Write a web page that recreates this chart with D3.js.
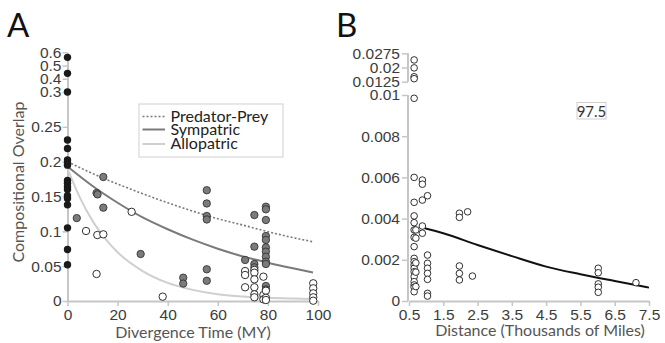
<!DOCTYPE html>
<html>
<head>
<meta charset="utf-8">
<script src="https://cdn.jsdelivr.net/npm/d3@7"></script>
<style>
  body { margin: 0; background: #fff; }
  svg { font-family: Lato, "Open Sans", sans-serif; }
</style>
</head>
<body>
<div id="chart"></div>
<script>
// panel A: same-species pairs (all at divergence 0)
const speciesOverlap = [0.562, 0.441, 0.3, 0.231, 0.219, 0.2025, 0.198, 0.195, 0.173, 0.169,
  0.164, 0.160, 0.151, 0.147, 0.138, 0.105, 0.074, 0.052];

// panel A: sympatric pairs (grey)
const sympTime = [3.7, 11.6, 12.0, 14.3, 14.3, 29.2, 46.2, 46.2, 55.6, 55.6, 55.6, 55.6, 55.6, 55.6,
  70.9, 74.6, 74.6, 74.6, 74.6, 79.2, 79.2, 79.2, 79.2, 79.2, 79.2, 79.2, 79.2, 79.2, 79.2, 79.2, 79.2];
const sympOverlap = [0.119, 0.155, 0.153, 0.178, 0.134, 0.0675, 0.0335, 0.025, 0.159, 0.140, 0.122, 0.117, 0.0455, 0.029,
  0.0589, 0.1234, 0.078, 0.0531, 0.0483, 0.1354, 0.1316, 0.1163, 0.0933, 0.0876, 0.077, 0.0708, 0.0636, 0.0564, 0.0531, 0.0215, 0.0165];

// panel A: allopatric pairs (white)
const alloTime = [7.4, 11.9, 14.3, 11.6, 25.6, 38, 70.9, 70.9, 70.9, 74.6, 74.6, 74.6, 74.6, 74.6, 74.6,
  78.2, 78.2, 78.2, 79.2, 79.2, 79.2, 98.1, 98.1, 98.1, 98.1, 98.1];
const alloOverlap = [0.1005, 0.0947, 0.0957, 0.0388, 0.128, 0.0062, 0.043, 0.0373, 0.0197, 0.0445, 0.0406, 0.0311, 0.0197, 0.0096, 0.0053,
  0.0349, 0.0086, 0.0024, 0.0148, 0.0046, 0.0014, 0.0254, 0.0182, 0.011, 0.0053, 0.0004];

// panel A: fitted curves
const fitTime = [0, 10, 20, 30, 40, 50, 60, 70, 80, 90, 98];
const predatorFit = [0.200, 0.183, 0.168, 0.154, 0.141, 0.129, 0.118, 0.109, 0.0995, 0.091, 0.085];
const sympatricFit = [0.193, 0.165, 0.141, 0.120, 0.103, 0.088, 0.075, 0.064, 0.055, 0.047, 0.041];
const alloFitTime = [0, 5, 10, 15, 20, 30, 40, 50, 60, 70, 80, 90, 98];
const allopatricFit = [0.190, 0.148, 0.115, 0.090, 0.070, 0.043, 0.026, 0.016, 0.0096, 0.0065, 0.0045, 0.0035, 0.003];

const aYTicks = [0, 0.05, 0.1, 0.15, 0.2, 0.25, 0.3, 0.4, 0.5, 0.6];
const aXTicks = [0, 20, 40, 60, 80, 100];

// panel B: overlap vs distance
const distance = [0.65, 0.65, 0.65, 0.65, 0.65, 0.65, 0.65, 0.65, 0.65, 0.65, 0.65, 0.65, 0.65, 0.65, 0.65,
  0.65, 0.65, 0.65, 0.65, 0.65, 0.65, 0.65,
  0.7, 0.7, 0.7, 0.7, 0.7,
  0.89, 0.89, 0.89, 0.89, 0.89, 1.04,
  1.04, 1.04, 1.04, 1.04, 1.04, 1.04, 1.04,
  1.97, 1.97, 1.97, 1.97, 1.97, 2.21, 2.35,
  6.02, 6.02, 6.02, 6.02, 6.02, 7.12];
const distOverlap = [0.024, 0.0198, 0.0151, 0.0141, 0.00984, 0.0060, 0.00479, 0.00413, 0.0038, 0.00345, 0.00309, 0.00264, 0.00207, 0.00191, 0.00175,
  0.00159, 0.00142, 0.00118, 0.00094, 0.00078, 0.00067, 0.00045,
  0.00345, 0.00305, 0.00185, 0.0014, 0.0007,
  0.00587, 0.00567, 0.0049, 0.00364, 0.00329, 0.00511,
  0.00223, 0.00183, 0.00159, 0.00134, 0.00105, 0.00037, 0.00024,
  0.00426, 0.00406, 0.0017, 0.00134, 0.00102, 0.00433, 0.00121,
  0.00159, 0.00137, 0.00083, 0.00067, 0.00042, 0.00089];
const distFitX = [0.96, 1.5, 2.5, 3.5, 4.5, 5.5, 6.5, 7.5];
const distFitY = [0.00353, 0.00329, 0.00272, 0.00218, 0.00167, 0.0013, 0.00097, 0.00065];

const bYLow = [0, 0.002, 0.004, 0.006, 0.008, 0.01];
const bYHigh = [0.0125, 0.02, 0.0275];
const bXTicks = [0.5, 1.5, 2.5, 3.5, 4.5, 5.5, 6.5, 7.5];

const width = 665, height = 343;
const axisColor = "#c6c6c6";
const tickText = "#3c3c3c";

const svg = d3.select("#chart").append("svg")
  .attr("width", width)
  .attr("height", height);

function styleAxis(g) {
  g.selectAll("path.domain").attr("stroke", axisColor).attr("stroke-width", 2);
  g.selectAll(".tick line").attr("stroke", axisColor).attr("stroke-width", 1.5);
  g.selectAll(".tick text").attr("fill", tickText).attr("font-size", 15.5);
}

// ---------- panel A ----------
const xA = d3.scaleLinear().domain([0, 100]).range([67.5, 318]);
const yA = d3.scaleLinear().domain([0, 0.3, 0.6]).range([301, 92, 52.3]);

svg.append("g")
  .attr("transform", "translate(0,301)")
  .call(d3.axisBottom(xA).tickValues(aXTicks).tickSize(5).tickSizeOuter(0).tickPadding(3))
  .call(styleAxis);

svg.append("g")
  .attr("transform", "translate(67.5,0)")
  .call(d3.axisLeft(yA).tickValues(aYTicks).tickSize(5).tickSizeOuter(0).tickPadding(1).tickFormat(d => String(d)))
  .call(styleAxis);

const lineA = d3.line().curve(d3.curveMonotoneX);

svg.append("path")
  .attr("d", lineA(alloFitTime.map((t, i) => [xA(t), yA(allopatricFit[i])])))
  .attr("fill", "none").attr("stroke", "#cfcfcf").attr("stroke-width", 2);
svg.append("path")
  .attr("d", lineA(fitTime.map((t, i) => [xA(t), yA(sympatricFit[i])])))
  .attr("fill", "none").attr("stroke", "#7a7a7a").attr("stroke-width", 2);
svg.append("path")
  .attr("d", lineA(fitTime.map((t, i) => [xA(t), yA(predatorFit[i])])))
  .attr("fill", "none").attr("stroke", "#7a7a7a").attr("stroke-width", 1.6)
  .attr("stroke-dasharray", "2,2");

svg.append("g").selectAll("circle")
  .data(sympTime.map((t, i) => [t, sympOverlap[i]]))
  .enter().append("circle")
  .attr("cx", d => xA(d[0])).attr("cy", d => yA(d[1])).attr("r", 3.7)
  .attr("fill", "#7b7b7b").attr("stroke", "#2a2a2a").attr("stroke-width", 0.8);

svg.append("g").selectAll("circle")
  .data(alloTime.map((t, i) => [t, alloOverlap[i]]))
  .enter().append("circle")
  .attr("cx", d => xA(d[0])).attr("cy", d => yA(d[1])).attr("r", 3.7)
  .attr("fill", "#fff").attr("stroke", "#1a1a1a").attr("stroke-width", 0.9);

svg.append("g").selectAll("circle")
  .data(speciesOverlap)
  .enter().append("circle")
  .attr("cx", xA(0)).attr("cy", d => yA(d)).attr("r", 3.7)
  .attr("fill", "#1a1a1a");

// legend
const legend = svg.append("g");
legend.append("rect")
  .attr("x", 139).attr("y", 104).attr("width", 144).attr("height", 53)
  .attr("fill", "#fff").attr("stroke", "#cfcfcf").attr("stroke-width", 1);
const legendItems = [
  { name: "Predator-Prey", stroke: "#7a7a7a", dash: "2,2", y: 116.5 },
  { name: "Sympatric", stroke: "#7a7a7a", dash: null, y: 129.5 },
  { name: "Allopatric", stroke: "#cfcfcf", dash: null, y: 144 }
];
legendItems.forEach(d => {
  legend.append("line")
    .attr("x1", 142.5).attr("x2", 165).attr("y1", d.y).attr("y2", d.y)
    .attr("stroke", d.stroke).attr("stroke-width", d.dash ? 1.6 : 2)
    .attr("stroke-dasharray", d.dash);
  legend.append("text")
    .attr("x", 170.5).attr("y", d.y + 5)
    .attr("font-size", 16).attr("fill", "#222")
    .text(d.name);
});

svg.append("text").attr("x", 193).attr("y", 338)
  .attr("text-anchor", "middle").attr("font-size", 16).attr("fill", "#555")
  .text("Divergence Time (MY)");
svg.append("text")
  .attr("transform", "translate(24,182) rotate(-90)")
  .attr("text-anchor", "middle").attr("font-size", 16).attr("fill", "#555")
  .text("Compositional Overlap");
svg.append("text").attr("x", 7).attr("y", 37)
  .attr("font-size", 33).attr("fill", "#111").text("A");

// ---------- panel B ----------
const xB = d3.scaleLinear().domain([0.5, 7.5]).range([409, 649]);
const yB = d3.scaleLinear().domain([0, 0.01, 0.0125, 0.0275]).range([301, 95, 81.7, 53.3]);

svg.append("g")
  .attr("transform", "translate(0,301)")
  .call(d3.axisBottom(xB).tickValues(bXTicks).tickSize(5).tickSizeOuter(0).tickPadding(3))
  .call(styleAxis);

const yAxisB = svg.append("g")
  .attr("transform", "translate(408,0)")
  .call(d3.axisLeft(yB).tickValues(bYLow.concat(bYHigh)).tickSize(6).tickSizeOuter(0).tickPadding(2).tickFormat(d => String(d)))
  .call(styleAxis);
yAxisB.select("path.domain").remove();
// broken axis: two separate pieces
[[0, 0.01], [0.0125, 0.0275]].forEach(seg => {
  yAxisB.append("line")
    .attr("x1", 0).attr("x2", 0)
    .attr("y1", yB(seg[0])).attr("y2", yB(seg[1]))
    .attr("stroke", axisColor).attr("stroke-width", 2);
});

svg.append("path")
  .attr("d", d3.line().curve(d3.curveMonotoneX)(distFitX.map((x, i) => [xB(x), yB(distFitY[i])])))
  .attr("fill", "none").attr("stroke", "#111").attr("stroke-width", 2);

svg.append("g").selectAll("circle")
  .data(distance.map((x, i) => [x, distOverlap[i]]))
  .enter().append("circle")
  .attr("cx", d => xB(d[0])).attr("cy", d => yB(d[1])).attr("r", 3.3)
  .attr("fill", "#fff").attr("stroke", "#1a1a1a").attr("stroke-width", 0.9);

svg.append("rect")
  .attr("x", 577).attr("y", 102.5).attr("width", 29).attr("height", 16.5)
  .attr("fill", "#fff").attr("stroke", "#cfcfcf");
svg.append("text").attr("x", 591.5).attr("y", 116.5)
  .attr("text-anchor", "middle").attr("font-size", 15).attr("fill", "#333")
  .text("97.5");

svg.append("text").attr("x", 540).attr("y", 336)
  .attr("text-anchor", "middle").attr("font-size", 16).attr("fill", "#555")
  .text("Distance (Thousands of Miles)");
svg.append("text").attr("x", 336).attr("y", 37)
  .attr("font-size", 33).attr("fill", "#111").text("B");
</script>
</body>
</html>
